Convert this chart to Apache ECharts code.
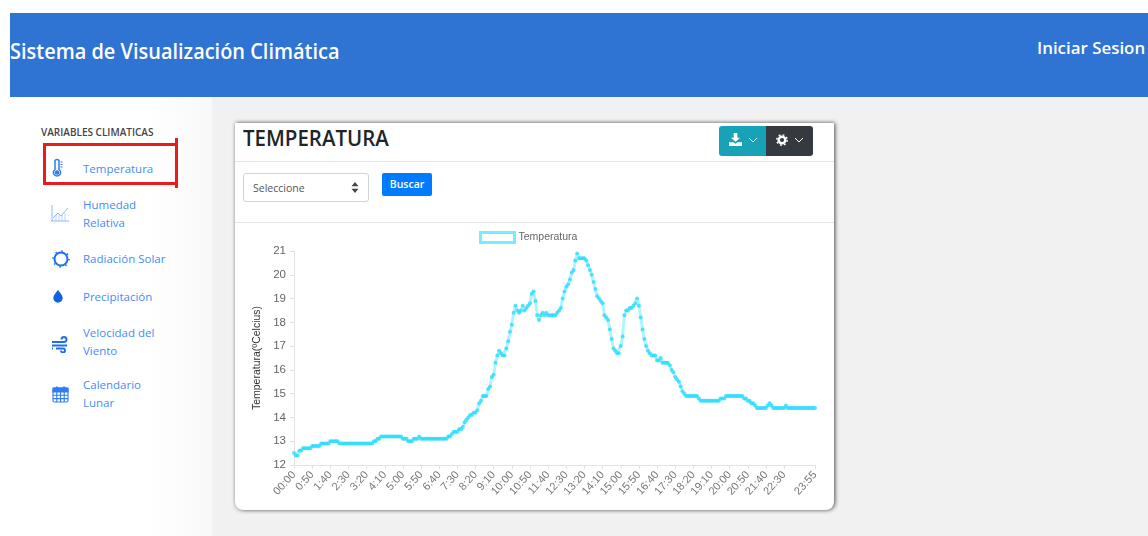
<!DOCTYPE html>
<html lang="es">
<head>
<meta charset="utf-8">
<title>Sistema de Visualización Climática</title>
<script src="https://cdn.jsdelivr.net/npm/echarts@6/dist/echarts.min.js"></script>
<style>
  html, body { margin: 0; padding: 0; width: 1148px; height: 536px; overflow: hidden; background: #fff; font-family: "Open Sans", "Noto Sans", sans-serif; }
  .abs { position: absolute; white-space: nowrap; }
  #bg { left: 212px; top: 97px; width: 936px; height: 439px; background: #f1f1f1; }
  #side { left: 150px; top: 97px; width: 62px; height: 439px; background: linear-gradient(to right, #fff, #f8f8f8); }
  #top { left: 10px; top: 13px; width: 1138px; height: 84px; background: #2f73d3; }
  .head { color: #fff; font-weight: 600; line-height: 24px; transform-origin: left center; }
  .menu { color: #3f8cff; font-size: 11.5px; line-height: 16px; left: 83px; }
  .ico { left: 50px; width: 20px; height: 20px; }
  #redbox { left: 43px; top: 143px; width: 129px; height: 36px; border: 3px solid #e81c1c; }
  #redtip { left: 175px; top: 138px; width: 3px; height: 50px; background: #e81c1c; }
  #card { left: 235px; top: 123px; width: 599px; height: 387px; background: #fff; border-radius: 0 0 8px 8px; box-shadow: 1px 0 4px rgba(0,0,0,.7); }
  .rule { left: 235px; width: 599px; height: 1px; background: #e4e4e4; }
  #title { left: 243px; top: 122px; font-size: 22px; line-height: 30px; font-weight: 600; color: #212529; transform: scaleX(.93); transform-origin: left center; }
  #btnA { left: 719px; top: 126px; width: 47px; height: 30px; background: #17a2b8; border-radius: 3px 0 0 3px; }
  #btnB { left: 766px; top: 126px; width: 47px; height: 30px; background: #343a40; border-radius: 0 3px 3px 0; }
  #select { left: 243px; top: 173px; width: 124px; height: 27px; border: 1px solid #ced4da; border-radius: 3px; color: #555; font-size: 10.5px; line-height: 28px; text-indent: 9px; }
  #buscar { left: 382px; top: 173px; width: 50px; height: 23px; background: #007bff; border-radius: 2px; color: #fff; font-size: 10.5px; font-weight: 600; line-height: 23px; text-align: center; }
  #chart { left: 235px; top: 223px; width: 599px; height: 287px; }
</style>
</head>
<body>
<div class="abs" id="bg"></div>
<div class="abs" id="side"></div>
<div class="abs" id="top"></div>
<div class="abs head" style="left:10px;top:39px;font-size:21px;transform:scaleX(.95)">Sistema de Visualización Climática</div>
<div class="abs head" style="left:1037px;top:36px;font-size:16.9px">Iniciar Sesion</div>

<div class="abs" style="left:41px;top:125px;font-size:10px;line-height:14px;font-weight:600;color:#444">VARIABLES CLIMATICAS</div>
<div class="abs" id="redbox"></div>
<div class="abs" id="redtip"></div>
<div class="abs menu" style="top:161px">Temperatura</div>
<div class="abs menu" style="top:197px">Humedad</div>
<div class="abs menu" style="top:215px">Relativa</div>
<div class="abs menu" style="top:251px">Radiación Solar</div>
<div class="abs menu" style="top:289px">Precipitación</div>
<div class="abs menu" style="top:325px">Velocidad del</div>
<div class="abs menu" style="top:343px">Viento</div>
<div class="abs menu" style="top:377px">Calendario</div>
<div class="abs menu" style="top:395px">Lunar</div>

<!-- iconos del menu -->
<svg class="abs ico" style="top:158px" viewBox="0 0 20 20" fill="none" stroke="#2f7df0" stroke-width="1.5"><path d="M5 3.5a2 2 0 0 1 4 0v8a3.6 3.6 0 1 1-4 0z"/><circle cx="7" cy="14.5" r="1.6" fill="#2f7df0"/><path d="M10.5 4h2M10.5 6.5h2M10.5 9h2" stroke-width="1"/></svg>
<svg class="abs ico" style="top:203px" viewBox="0 0 20 20" fill="none" stroke="#8fb8f5" stroke-width="1"><path d="M2 2v16M1 18h18M3 15l5-5 3 3 7-8"/><path d="M6 18v-6M9 18v-6M12 18v-6M15 18v-8" stroke-width=".6"/></svg>
<svg class="abs ico" style="top:249px" viewBox="0 0 20 20" fill="none" stroke="#1f6fe8" stroke-width="2"><circle cx="11" cy="10" r="6.5"/><circle cx="11" cy="10" r="8" stroke-dasharray="1.5 4.8" stroke-width="1.6"/></svg>
<svg class="abs ico" style="top:287px" viewBox="0 0 20 20"><path d="M8 3c2 3 4.700 5 4.700 8a4.700 4.700 0 0 1-9.400 0c0-3 2.700-5 4.700-8z" fill="#0f62e0"/></svg>
<svg class="abs ico" style="top:333px" viewBox="0 0 20 20" fill="none" stroke="#1f6fe8" stroke-width="1.9"><path d="M2 9h12a2.500 2.500 0 1 0-2.500-2.500M2 12.500h15M6 15.500h7a2 2 0 1 1-2 2M2 15.500h1"/></svg>
<svg class="abs ico" style="top:384px" viewBox="0 0 20 20" fill="none" stroke="#2f7df0" stroke-width="1.100"><rect x="3" y="4" width="15" height="14" rx="1.500"/><path d="M3 4h15v4H3z" fill="#2f7df0"/><path d="M3 11.300h15M3 14.600h15M6.800 8v10M10.500 8v10M14.200 8v10"/><path d="M7 2.500v3M14 2.500v3" stroke-width="1.800"/></svg>

<div class="abs" id="card"></div>
<div class="abs rule" style="top:161px"></div>
<div class="abs rule" style="top:222px"></div>
<div class="abs" id="title">TEMPERATURA</div>
<div class="abs" id="btnA"></div>
<div class="abs" id="btnB"></div>
<svg class="abs" style="left:729px;top:133px" width="13" height="13" viewBox="0 0 14 14"><path d="M5 0h4v5h3L7 9.500 2 5h3zM0 10h5l2 1.500L9 10h5v4H0z" fill="#fff"/></svg>
<svg class="abs" style="left:748px;top:137px" width="10" height="7" viewBox="0 0 10 7"><path d="M1 1l4 4 4-4" fill="none" stroke="#fff" stroke-width="1"/></svg>
<svg class="abs" style="left:776px;top:134px" width="12" height="12" viewBox="0 0 13 13"><circle cx="6.500" cy="6.500" r="3.600" fill="none" stroke="#fff" stroke-width="2.600"/><circle cx="6.500" cy="6.500" r="5.600" fill="none" stroke="#fff" stroke-width="1.600" stroke-dasharray="2 2.400"/></svg>
<svg class="abs" style="left:794px;top:137px" width="10" height="7" viewBox="0 0 10 7"><path d="M1 1l4 4 4-4" fill="none" stroke="#fff" stroke-width="1"/></svg>
<div class="abs" id="select">Seleccione</div>
<svg class="abs" style="left:351px;top:182px" width="8" height="11" viewBox="0 0 8 11"><path d="M4 0l3.500 4.300h-7zM4 11L.5 6.700h7z" fill="#444"/></svg>
<div class="abs" id="buscar">Buscar</div>
<div class="abs" id="chart"></div>

<script>
// valores, una fila por hora (cada 5 minutos)
const hora00 = [12.5, 12.4, 12.4, 12.6, 12.6, 12.7, 12.7, 12.7, 12.7, 12.7, 12.8, 12.8]
const hora01 = [12.8, 12.8, 12.8, 12.9, 12.9, 12.9, 12.9, 12.9, 13.0, 13.0, 13.0, 13.0]
const hora02 = [13.0, 12.9, 12.9, 12.9, 12.9, 12.9, 12.9, 12.9, 12.9, 12.9, 12.9, 12.9]
const hora03 = [12.9, 12.9, 12.9, 12.9, 12.9, 12.9, 12.9, 12.9, 13.0, 13.0, 13.1, 13.1]
const hora04 = [13.2, 13.2, 13.2, 13.2, 13.2, 13.2, 13.2, 13.2, 13.2, 13.2, 13.2, 13.2]
const hora05 = [13.1, 13.1, 13.1, 13.0, 13.0, 13.0, 13.1, 13.1, 13.1, 13.2, 13.1, 13.1]
const hora06 = [13.1, 13.1, 13.1, 13.1, 13.1, 13.1, 13.1, 13.1, 13.1, 13.1, 13.1, 13.1]
const hora07 = [13.1, 13.2, 13.2, 13.3, 13.4, 13.4, 13.4, 13.5, 13.5, 13.6, 13.8, 13.9]
const hora08 = [14.0, 14.1, 14.1, 14.2, 14.2, 14.3, 14.6, 14.7, 14.9, 14.9, 14.9, 15.2]
const hora09 = [15.3, 15.7, 15.8, 16.3, 16.6, 16.8, 16.7, 16.6, 16.6, 16.9, 17.2, 17.6]
const hora10 = [17.9, 18.4, 18.7, 18.5, 18.4, 18.5, 18.7, 18.5, 18.6, 18.7, 18.8, 19.2]
const hora11 = [19.3, 18.9, 18.3, 18.1, 18.3, 18.4, 18.3, 18.4, 18.3, 18.3, 18.3, 18.3]
const hora12 = [18.3, 18.4, 18.5, 18.6, 19.0, 19.3, 19.5, 19.6, 19.8, 20.1, 20.2, 20.6]
const hora13 = [20.9, 20.7, 20.7, 20.7, 20.7, 20.6, 20.4, 20.2, 20.0, 19.7, 19.4, 19.1]
const hora14 = [19.0, 18.9, 18.8, 18.3, 18.2, 18.1, 17.7, 17.3, 16.9, 16.8, 16.7, 16.7]
const hora15 = [17.0, 17.4, 18.3, 18.5, 18.5, 18.6, 18.6, 18.7, 18.8, 19.0, 18.7, 18.2]
const hora16 = [17.7, 17.3, 17.0, 16.8, 16.7, 16.6, 16.6, 16.6, 16.4, 16.4, 16.5, 16.3]
const hora17 = [16.3, 16.3, 16.3, 16.2, 16.0, 15.9, 15.7, 15.6, 15.5, 15.3, 15.1, 15.0]
const hora18 = [14.9, 14.9, 14.9, 14.9, 14.9, 14.9, 14.9, 14.8, 14.7, 14.7, 14.7, 14.7]
const hora19 = [14.7, 14.7, 14.7, 14.7, 14.7, 14.7, 14.7, 14.8, 14.8, 14.8, 14.9, 14.9]
const hora20 = [14.9, 14.9, 14.9, 14.9, 14.9, 14.9, 14.9, 14.9, 14.8, 14.8, 14.7, 14.7]
const hora21 = [14.6, 14.6, 14.5, 14.4, 14.4, 14.4, 14.4, 14.4, 14.4, 14.5, 14.6, 14.5]
const hora22 = [14.4, 14.4, 14.4, 14.4, 14.4, 14.4, 14.4, 14.5, 14.4, 14.4, 14.4, 14.4]
const hora23 = [14.4, 14.4, 14.4, 14.4, 14.4, 14.4, 14.4, 14.4, 14.4, 14.4, 14.4, 14.4]

const temperatura = [].concat(
  hora00, hora01, hora02, hora03, hora04, hora05, hora06, hora07,
  hora08, hora09, hora10, hora11, hora12, hora13, hora14, hora15,
  hora16, hora17, hora18, hora19, hora20, hora21, hora22, hora23
)

// etiquetas visibles del eje x
const etiquetasX = [
  '00:00', '0:50', '1:40', '2:30', '3:20', '4:10', '5:00', '5:50', '6:40', '7:30',
  '8:20', '9:10', '10:00', '10:50', '11:40', '12:30', '13:20', '14:10', '15:00',
  '15:50', '16:40', '17:30', '18:20', '19:10', '20:00', '20:50', '21:40', '22:30', '23:55'
]
const etiquetasY = [12, 13, 14, 15, 16, 17, 18, 19, 20, 21]

// una categoria cada 5 minutos
const categorias = temperatura.map((v, i) => {
  if (i === 0) return '00:00'
  return Math.floor(i / 12) + ':' + String((i % 12) * 5).padStart(2, '0')
})
const mostrar = (i, nombre) => etiquetasX.includes(nombre)

const myChart = echarts.init(document.getElementById('chart'))
myChart.setOption({
  animation: false,
  textStyle: { fontFamily: '"Liberation Sans", Arial, sans-serif' },
  legend: {
    top: 3,
    left: 239,
    data: ['Temperatura'],
    icon: 'rect',
    itemWidth: 34,
    itemHeight: 10,
    itemGap: 6,
    textStyle: { color: '#666', fontSize: 10.5, padding: [0, 0, 0, -1] },
    itemStyle: { color: '#fff', borderColor: '#55eaff', borderWidth: 3 }
  },
  grid: { left: 59, width: 521, top: 28, height: 214 },
  xAxis: {
    type: 'category',
    boundaryGap: false,
    data: categorias,
    axisLine: { lineStyle: { color: '#e2e2e2' } },
    axisTick: { interval: mostrar, length: 4, lineStyle: { color: '#e2e2e2' } },
    axisLabel: { interval: mostrar, rotate: 48, color: '#777', fontSize: 11, margin: 8, align: 'right', verticalAlign: 'middle', hideOverlap: false }
  },
  yAxis: {
    type: 'value',
    min: etiquetasY[0],
    max: etiquetasY[etiquetasY.length - 1],
    interval: 1,
    name: 'Temperatura(ºCelcius)',
    nameLocation: 'middle',
    nameGap: 31,
    nameTextStyle: { color: '#333', fontSize: 10.5 },
    axisLine: { show: true, lineStyle: { color: '#e2e2e2' } },
    axisTick: { show: true, length: 4, lineStyle: { color: '#e2e2e2' } },
    axisLabel: { color: '#666', fontSize: 11.5, margin: 8 },
    splitLine: { show: false }
  },
  series: [
    {
      name: 'Temperatura',
      type: 'line',
      data: temperatura,
      showAllSymbol: true,
      symbol: 'circle',
      symbolSize: 4,
      lineStyle: { color: '#adf4ff', width: 3 },
      itemStyle: { color: '#2fdcff', opacity: 0.8, borderWidth: 0 }
    }
  ]
})
window.addEventListener('resize', () => myChart.resize())
</script>
</body>
</html>
